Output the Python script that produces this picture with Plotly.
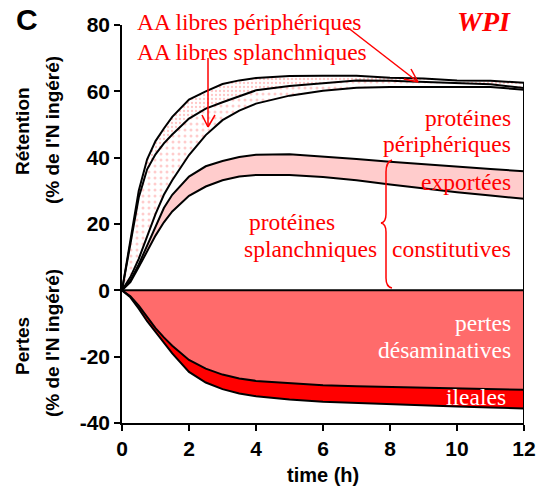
import plotly.graph_objects as go

# ---------------- data ----------------
time_h = [0, 0.25, 0.5, 0.75, 1, 1.25, 1.5, 2, 2.5, 3, 3.5, 4, 5, 6, 7, 8, 9, 10, 11, 12]

# cumulative (stacked) boundaries, % of ingested N
prot_splanch_const = [0, 2.5, 7, 12, 16.5, 20.5, 23.8, 28.5, 31.3, 33.2, 34.3, 34.8, 34.8, 34.2, 33.2, 31.9, 30.7, 29.6, 28.6, 27.6]
prot_splanch_export = [0, 3, 7.8, 13.5, 19.5, 24.8, 28.8, 34.3, 37.4, 39.0, 40.2, 40.9, 41.0, 40.4, 39.6, 38.8, 38.0, 37.4, 36.6, 35.9]
prot_periph = [0, 4, 9.5, 16.5, 23, 28.8, 33.2, 40.8, 46.8, 51.3, 54.2, 56.3, 58.7, 60.2, 61.1, 61.3, 61.3, 61.3, 61.3, 60.5]
aa_splanch = [0, 14, 28, 36.5, 41, 44.3, 47, 51.8, 54.8, 56.7, 58.5, 60.3, 61.6, 62.5, 63.3, 63.2, 62.8, 62.5, 62.1, 61.0]
aa_periph = [0, 15, 30, 39.5, 45, 48.8, 52.3, 57.5, 60.0, 62.2, 63.3, 64.0, 64.6, 64.7, 64.7, 64.1, 63.9, 63.3, 63.2, 62.6]

zero_line = [0] * len(time_h)
pertes_desamin = [0, -1.8, -4.6, -8.1, -11.4, -14.2, -16.7, -21, -23.6, -25.4, -26.6, -27.3, -28.0, -28.6, -28.9, -29.1, -29.2, -29.4, -29.8, -30.0]
pertes_ileales = [0, -2.1, -5.5, -9.3, -12.5, -15.6, -19, -24.6, -27.8, -29.8, -31.1, -31.9, -32.9, -33.6, -34.0, -34.3, -34.7, -35.0, -35.3, -35.6]

x_ticks = [0, 2, 4, 6, 8, 10, 12]
x_tick_labels = ["0", "2", "4", "6", "8", "10", "12"]
y_ticks = [-40, -20, 0, 20, 40, 60, 80]
y_tick_labels = ["-40", "-20", "0", "20", "40", "60", "80"]

# ---------------- geometry helpers (pixel -> data / paper) ----------------
L, R, T, B = 122, 14, 25, 69
W, H = 538, 492
PW, PH = W - L - R, H - T - B


def dx(px):
    return (px - L) / PW * 12


def dy(py):
    return 80 - (py - T) / PH * 120


def pxp(px):
    return (px - L) / PW


def pyp(py):
    return (H - B - py) / PH


LINE = dict(color="black", width=2)
fig = go.Figure()

fig.add_trace(go.Scatter(x=time_h, y=prot_splanch_const, mode="lines", line=LINE, showlegend=False))
fig.add_trace(go.Scatter(x=time_h, y=prot_splanch_export, mode="lines", line=LINE, fill="tonexty",
                         fillcolor="#FFCCCC", showlegend=False))
fig.add_trace(go.Scatter(x=time_h, y=prot_periph, mode="lines", line=LINE, showlegend=False))
fig.add_trace(go.Scatter(x=time_h, y=aa_splanch, mode="lines", line=LINE, fill="tonexty",
                         fillcolor="white",
                         fillpattern=dict(shape=".", fgcolor="#FF9A9A", bgcolor="white", size=6, solidity=0.2),
                         showlegend=False))
fig.add_trace(go.Scatter(x=time_h, y=aa_periph, mode="lines", line=LINE, fill="tonexty",
                         fillcolor="white",
                         fillpattern=dict(shape=".", fgcolor="#FF8C8C", bgcolor="white", size=4, solidity=0.25),
                         showlegend=False))

fig.add_trace(go.Scatter(x=time_h, y=zero_line, mode="lines", line=LINE, showlegend=False))
fig.add_trace(go.Scatter(x=time_h, y=pertes_desamin, mode="lines", line=LINE, fill="tonexty",
                         fillcolor="#FF6B6B", showlegend=False))
fig.add_trace(go.Scatter(x=time_h, y=pertes_ileales, mode="lines", line=LINE, fill="tonexty",
                         fillcolor="#FF0000", showlegend=False))

shapes = []
# right edge of the area chart
shapes.append(dict(type="line", xref="x", yref="y", x0=time_h[-1], x1=time_h[-1],
                   y0=y_ticks[0], y1=aa_periph[-1], line=dict(color="black", width=2)))


def seg(p0, p1, color="#FF0000", width=1.5):
    return dict(type="line", xref="x", yref="y", x0=dx(p0[0]), y0=dy(p0[1]),
                x1=dx(p1[0]), y1=dy(p1[1]), line=dict(color=color, width=width))


# arrow 1 (AA libres splanchniques)
shapes += [seg((208, 58), (208, 127)), seg((202, 115), (208, 127)), seg((215, 115), (208, 127))]
# arrow 2 (AA libres périphériques)
shapes += [seg((347, 27), (418, 82)), seg((411, 69), (418, 82)), seg((404, 79), (418, 82))]

# brace
bp = [(392, 160), (386, 162), (386, 172), (386, 214), (386, 222), (381, 223),
      (386, 224), (386, 232), (386, 278), (386, 287), (392, 288)]
bd = [(dx(a), dy(b)) for a, b in bp]
path = (f"M {bd[0][0]},{bd[0][1]} Q {bd[1][0]},{bd[1][1]} {bd[2][0]},{bd[2][1]} "
        f"L {bd[3][0]},{bd[3][1]} Q {bd[4][0]},{bd[4][1]} {bd[5][0]},{bd[5][1]} "
        f"Q {bd[6][0]},{bd[6][1]} {bd[7][0]},{bd[7][1]} "
        f"L {bd[8][0]},{bd[8][1]} Q {bd[9][0]},{bd[9][1]} {bd[10][0]},{bd[10][1]}")
shapes.append(dict(type="path", xref="x", yref="y", path=path, line=dict(color="#FF0000", width=1.5)))

SERIF = "Liberation Serif, Times New Roman, serif"
SANS = "Liberation Sans, Arial, sans-serif"
RED = "#FF0000"
ann = []


def txt(text, px, py, xanchor="right", color=RED, size=23.5, family=SERIF):
    ann.append(dict(text=text, x=pxp(px), y=pyp(py), xref="paper", yref="paper", showarrow=False,
                    xanchor=xanchor, yanchor="middle", font=dict(family=family, size=size, color=color)))


txt("AA libres périphériques", 135, 22, xanchor="left")
txt("AA libres splanchniques", 135, 52, xanchor="left")
txt("<b><i>WPI</i></b>", 513, 22, size=28)
txt("protéines", 513, 118)
txt("périphériques", 513, 144)
txt("exportées", 513, 182)
txt("protéines", 247, 222, xanchor="left")
txt("splanchniques", 242, 249, xanchor="left")
txt("constitutives", 513, 249)
txt("pertes", 513, 323, color="white")
txt("désaminatives", 513, 350, color="white")
txt("ileales", 508, 397, color="white")


def ctxt(text, px, py, size=19, angle=0):
    ann.append(dict(text=text, x=pxp(px), y=pyp(py), xref="paper", yref="paper",
                    showarrow=False, xanchor="center", yanchor="middle", textangle=angle,
                    font=dict(family=SANS, size=size, color="black", weight="bold")))


ctxt("C", 27, 19, size=30)
ctxt("Rétention", 22, 131, angle=-90)
ctxt("(% de l'N ingéré)", 52, 130, angle=-90)
ctxt("Pertes", 22, 346, angle=-90)
ctxt("(% de l'N ingéré)", 52, 343, angle=-90)
ctxt("time (h)", 323, 475, size=20)

fig.update_layout(
    width=W, height=H,
    margin=dict(l=L, r=R, t=T, b=B, autoexpand=False),
    paper_bgcolor="white", plot_bgcolor="white",
    showlegend=False,
    shapes=shapes,
    annotations=ann,
)

fig.update_xaxes(range=[0, 12], tickvals=x_ticks, ticktext=x_tick_labels, ticks="outside",
                 ticklen=6, tickwidth=1.5,
                 tickcolor="black", showline=True, linecolor="black", linewidth=1.5,
                 showgrid=False, zeroline=False,
                 tickfont=dict(family=SANS, size=21, color="black", weight="bold"))
fig.update_yaxes(range=[-40, 80], tickvals=y_ticks, ticktext=y_tick_labels, ticks="outside",
                 ticklen=6, tickwidth=1.5,
                 tickcolor="black", showline=True, linecolor="black", linewidth=1.5,
                 showgrid=False, zeroline=False,
                 tickfont=dict(family=SANS, size=21, color="black", weight="bold"))

fig.write_html("out.html", config={"displayModeBar": False},
               post_script="document.body.style.margin='0px';document.body.style.padding='0px';")
